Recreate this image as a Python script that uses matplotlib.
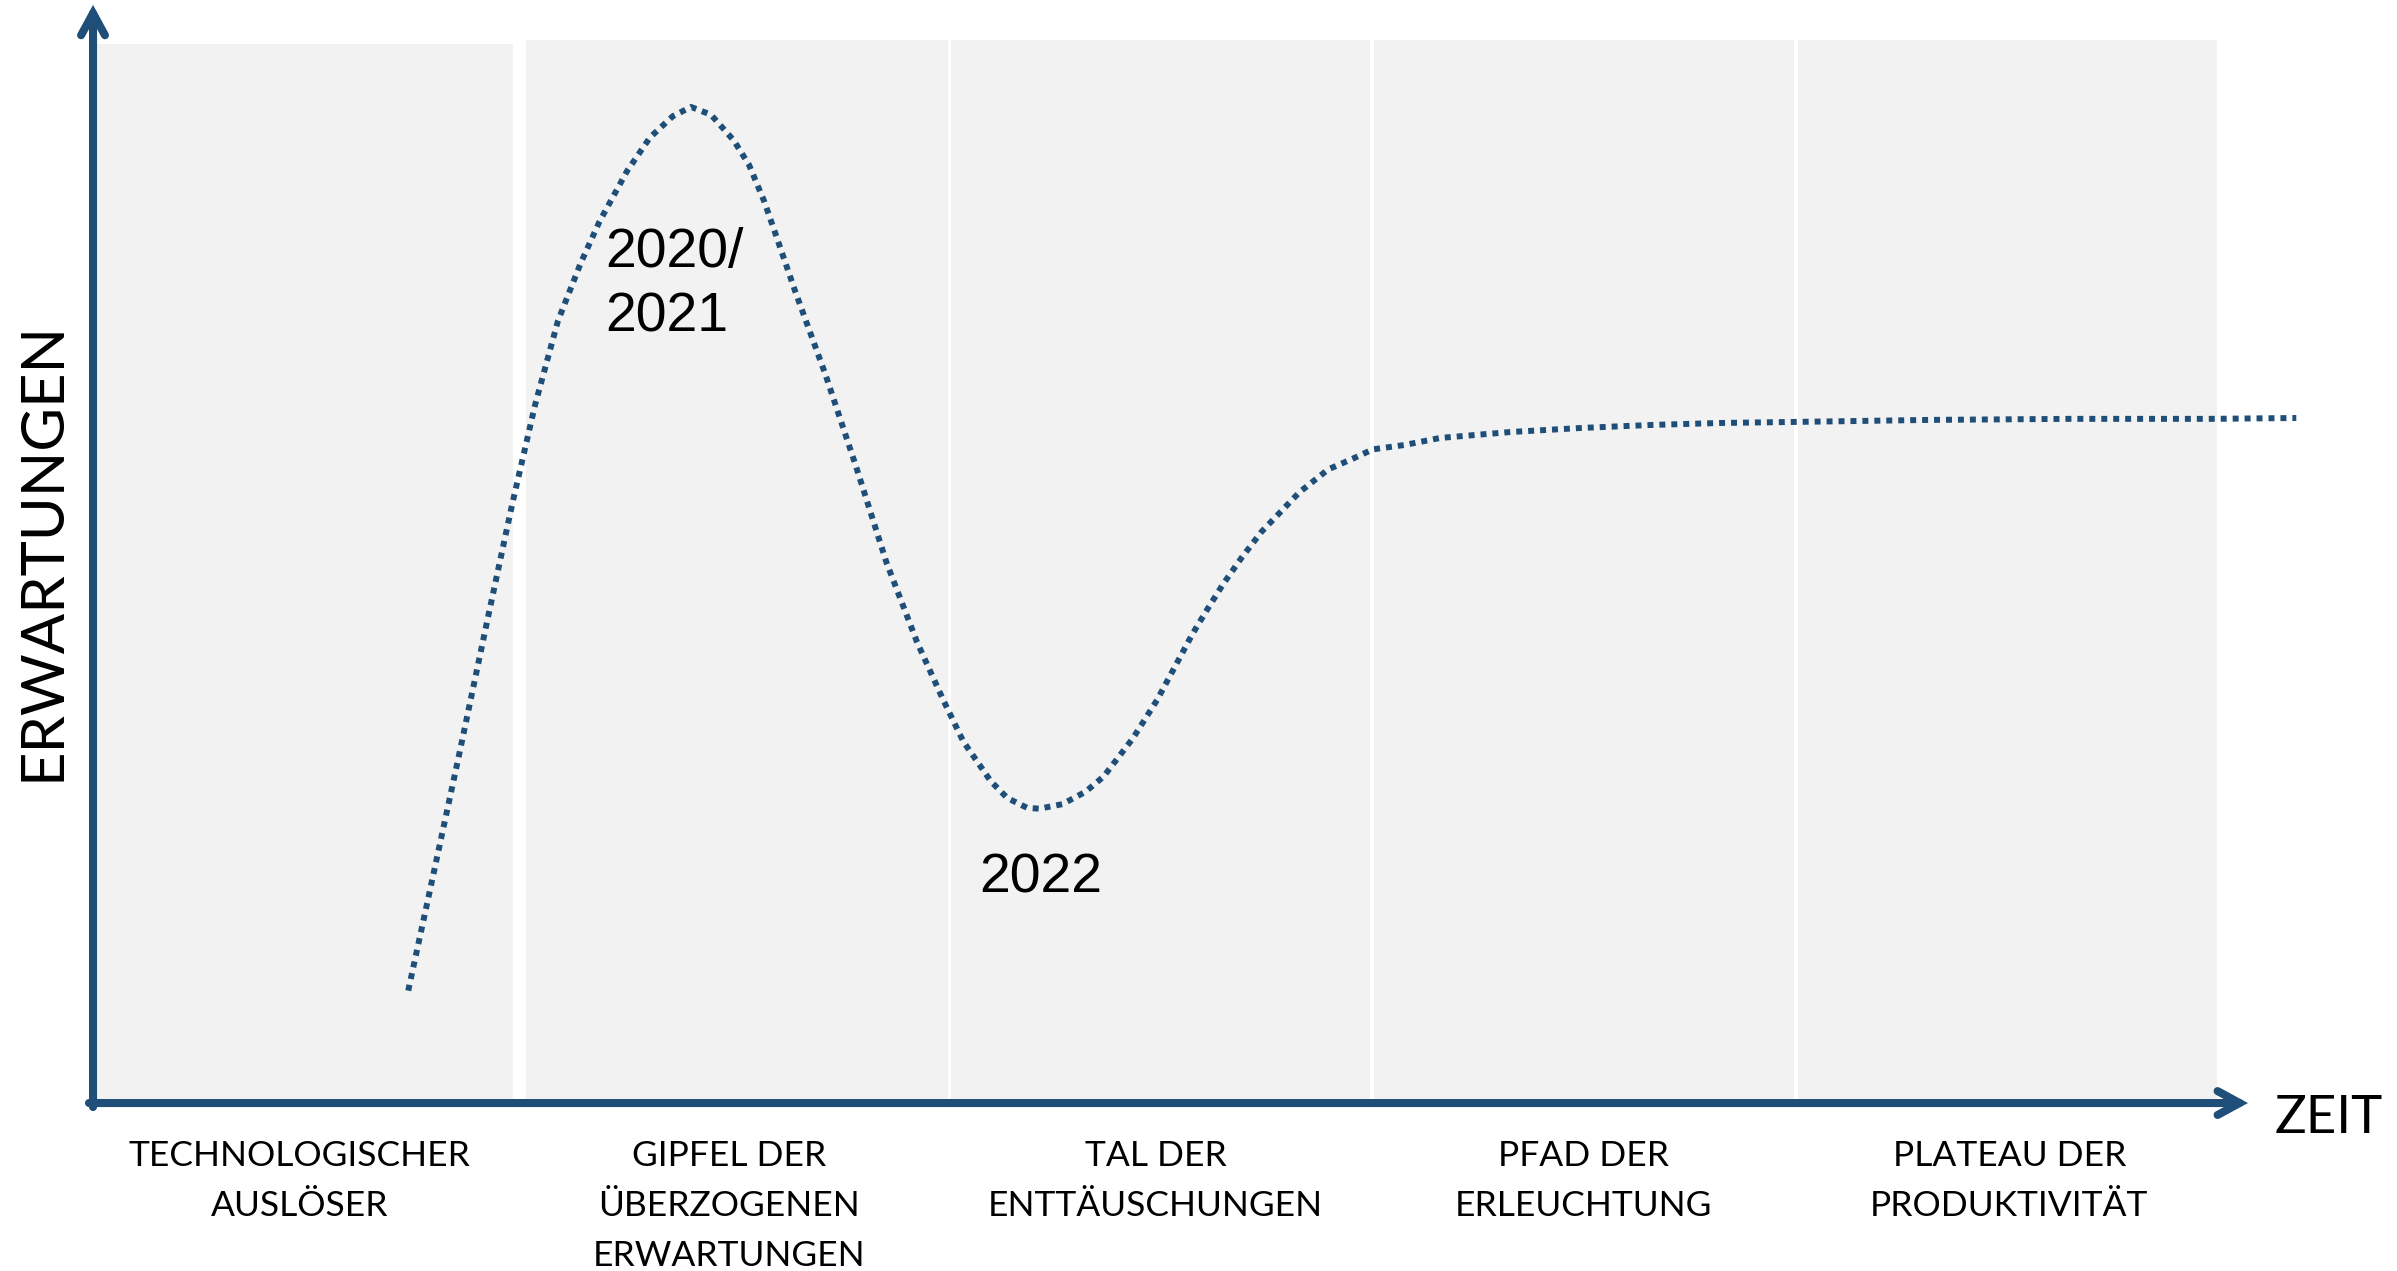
import matplotlib
matplotlib.use('Agg')
import matplotlib.pyplot as plt
from matplotlib.patches import FancyArrowPatch

plt.rcParams.update({'font.family': ['Lato', 'DejaVu Sans']})

# phases of the hype cycle (x in phase units, one unit per phase)
phases = ['TECHNOLOGISCHER\nAUSLÖSER',
          'GIPFEL DER\nÜBERZOGENEN\nERWARTUNGEN',
          'TAL DER\nENTTÄUSCHUNGEN',
          'PFAD DER\nERLEUCHTUNG',
          'PLATEAU DER\nPRODUKTIVITÄT']
phase_mid = [0.478, 1.49, 2.497, 3.506, 4.51]
band_lo = [0.0, 1.012, 2.014, 3.012, 4.012]
band_hi = [0.981, 2.007, 3.002, 4.002, 5.0]
band_top = [99.6, 100, 100, 100, 100]

# the curve (time, expectation 0..100)
t = [0.734, 0.777, 0.853, 0.925, 0.979, 1.033, 1.087, 1.141, 1.185, 1.250,
     1.304, 1.358, 1.401, 1.448, 1.502, 1.538, 1.574, 1.599, 1.646, 1.718,
     1.790, 1.862, 1.934, 1.996, 2.043, 2.108, 2.147, 2.194, 2.223, 2.277,
     2.331, 2.374, 2.443, 2.500, 2.583, 2.620, 2.656, 2.699, 2.746, 2.836,
     2.904, 2.962, 3.009, 3.085, 3.167, 3.333, 3.499, 3.662, 3.827, 4.004,
     4.321, 4.653, 4.985, 5.187]
erw = [10.57, 18.49, 32.58, 46.24, 56.30, 65.65, 73.56, 79.03, 82.91, 87.66,
       90.82, 92.83, 93.70, 92.97, 90.54, 88.23, 84.78, 81.90, 76.43, 68.53,
       59.90, 50.84, 43.36, 37.90, 34.02, 30.27, 28.69, 27.76, 27.69, 28.12,
       29.27, 30.71, 34.30, 37.90, 44.08, 46.53, 48.82, 51.27, 53.72, 57.46,
       59.61, 60.62, 61.49, 61.91, 62.56, 63.12, 63.50, 63.78, 63.97, 64.07,
       64.26, 64.36, 64.36, 64.44]

# year markers
years = ['2020/', '2021', '2022']
year_t = [1.198, 1.198, 2.080]
year_y = [78.65, 72.62, 19.85]

blue = '#1F4E79'
grey = '#F2F2F2'

fig = plt.figure(figsize=(23.97, 12.71), dpi=100)
ax = fig.add_axes([0, 0, 1, 1])
ax.set_xlim(-0.2288, 5.4245)
ax.set_ylim(-15.80, 103.76)
ax.axis('off')

# background bands
for lo, hi, top in zip(band_lo, band_hi, band_top):
    ax.bar(lo, top, width=hi - lo, align='edge', color=grey, linewidth=0, zorder=1)

# curve
ax.plot(t, erw, color=blue, lw=4.3, linestyle=(0, (1, 1)),
        dash_capstyle='butt', zorder=3)

# axes with open arrow heads
arrstyle = '->,head_length=15.8,head_width=8.6'
for a, b in [((-0.0094, -0.38), (-0.0094, 103.3)),
             ((-0.0189, 0.0), (5.073, 0.0))]:
    ax.add_patch(FancyArrowPatch(a, b, arrowstyle=arrstyle, mutation_scale=1,
                                 lw=5.8, color=blue, capstyle='round',
                                 joinstyle='miter', shrinkA=0, shrinkB=0,
                                 zorder=4))

# phase labels below the time axis
for xm, lab in zip(phase_mid, phases):
    for k, line in enumerate(lab.split('\n')):
        ax.text(xm, -5.93 - 4.70 * k, line, ha='center', va='baseline',
                fontsize=25.5, color='black')

for s, x, y in zip(years, year_t, year_y):
    ax.text(x, y, s, ha='left', va='baseline', fontsize=40,
            family=['Liberation Sans', 'DejaVu Sans'], color='black', zorder=5)

ax.text(-0.0873, 51.93, 'ERWARTUNGEN', rotation=90, rotation_mode='anchor',
        ha='center', va='baseline', fontsize=43, color='black')
ax.text(5.137, -2.82, 'ZEIT', ha='left', va='baseline', fontsize=38,
        color='black')

fig.savefig('out.png', dpi=100)
